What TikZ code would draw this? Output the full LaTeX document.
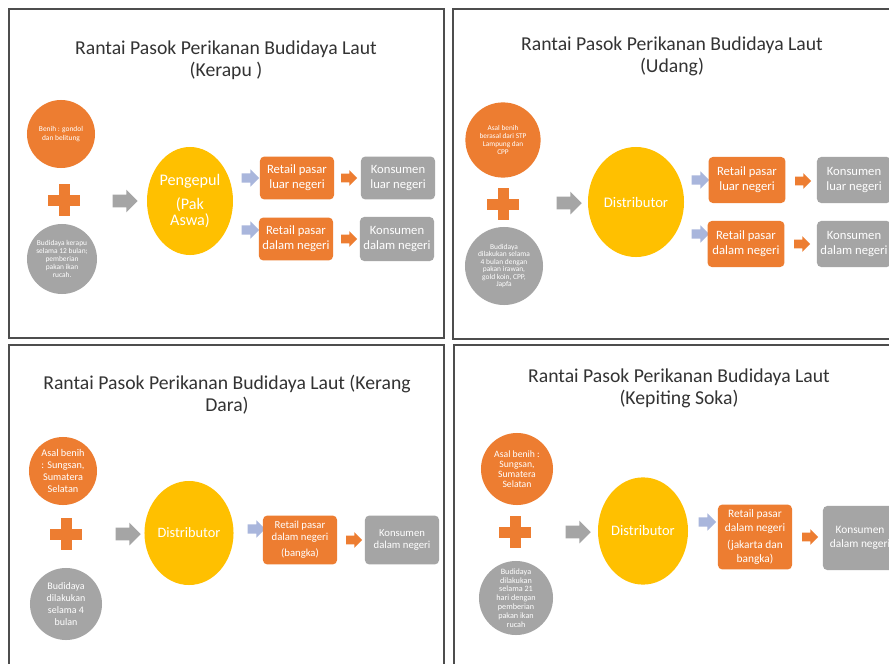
\documentclass[tikz,border=0pt]{standalone}
\usepackage{fontspec}
\setmainfont{Carlito}
\usepackage{tikz}
\usetikzlibrary{shapes.geometric, shapes.arrows}
\definecolor{offorange}{HTML}{ED7D31}
\definecolor{offgray}{HTML}{A5A5A5}
\definecolor{offgold}{HTML}{FFC000}
\definecolor{offblue}{HTML}{A9B6DC}
\definecolor{framegray}{HTML}{4D4D4D}

\begin{document}
\begin{tikzpicture}[
  x=0.025cm, y=-0.025cm,
  panel/.style={draw=framegray, line width=1pt},
  title/.style={align=center, text=black!80, font=\fontsize{14}{15.8}\selectfont},
  seed/.style={circle, fill=offorange, text=white, align=center, inner sep=0pt},
  culture/.style={circle, fill=offgray, text=white, align=center, inner sep=0pt},
  hub/.style={ellipse, fill=offgold, text=white, align=center, inner sep=0pt},
  retail/.style={rounded corners=3pt, fill=offorange, text=white, align=center, inner sep=1pt,
    minimum width=1.85cm, font=\fontsize{9}{10.6}\selectfont},
  buyer/.style={retail, fill=offgray},
  bigarrow/.style={single arrow, fill=offgray, inner xsep=0pt, inner ysep=0.15cm,
    minimum height=0.63cm, single arrow head extend=0.13cm},
  linkarrow/.style={single arrow, fill=offblue, inner xsep=0pt, inner ysep=0.11cm,
    minimum height=0.44cm, single arrow head extend=0.1cm},
  nextarrow/.style={linkarrow, fill=offorange, inner ysep=0.1cm, minimum height=0.4cm,
    single arrow head extend=0.09cm},
  plussign/.pic={
    \fill[offorange] (-16,-5.5) rectangle (16,5.5);
    \fill[offorange] (-5.5,-16) rectangle (5.5,16);
  }
]
  \path[use as bounding box, fill=white] (0,0) rectangle (889,664);
  \clip (0,0) rectangle (889,664);

  % Panels
  \draw[panel] (9,9) rectangle (444,338);
  \draw[panel] (453,9) rectangle (905,339);
  \draw[panel] (9,345) rectangle (444,690);
  \draw[panel] (454,345) rectangle (905,690);

  % Kerapu
  \node[title] (t1) at (226,60) {Rantai Pasok Perikanan Budidaya Laut\\(Kerapu )};
  \node[seed, minimum size=1.7cm, font=\fontsize{5.3}{5.9}\selectfont] (s1) at (61,134)
    {Benih : gondol\\dan belitung};
  \pic at (64,200) {plussign};
  \node[culture, minimum size=1.75cm, font=\fontsize{5.3}{5.7}\selectfont] (c1) at (62,259)
    {Budidaya kerapu\\selama 12 bulan;\\pemberian\\pakan ikan\\rucah.};
  \node[bigarrow] (g1) at (122,201) {};
  \node[hub, minimum width=2.1cm, minimum height=2.7cm, font=\fontsize{11.5}{12}\selectfont] (h1) at (190,201)
    {Pengepul\\[5pt](Pak\\Aswa)};
  \node[linkarrow] (b1a) at (248,178) {};
  \node[linkarrow] (b1b) at (248,230) {};
  \node[retail, minimum height=1.07cm] (r1a) at (297,178) {Retail pasar\\luar negeri};
  \node[retail, minimum height=1.07cm] (r1b) at (296,239) {Retail pasar\\dalam negeri};
  \node[nextarrow] (o1a) at (347,178) {};
  \node[nextarrow] (o1b) at (347,239) {};
  \node[buyer, minimum height=1.07cm] (k1a) at (398,178) {Konsumen\\luar negeri};
  \node[buyer, minimum height=1.1cm] (k1b) at (397,239) {Konsumen\\dalam negeri};

  % Udang
  \node[title] (t2) at (672,56) {Rantai Pasok Perikanan Budidaya Laut\\(Udang)};
  \node[seed, minimum size=1.88cm, font=\fontsize{5.2}{5.8}\selectfont] (s2) at (503,140)
    {Asal benih\\berasal dari STP\\Lampung dan\\CPP};
  \pic at (503,204) {plussign};
  \node[culture, minimum size=1.95cm, font=\fontsize{5.3}{5.4}\selectfont] (c2) at (504,266)
    {Budidaya\\dilakukan selama\\4 bulan dengan\\pakan irawan,\\gold koin, CPP,\\Japfa};
  \node[bigarrow] (g2) at (566,203) {};
  \node[hub, minimum width=2.4cm, minimum height=2.75cm, font=\fontsize{10.4}{12}\selectfont] (h2) at (636,202)
    {Distributor};
  \node[linkarrow] (b2a) at (698,180) {};
  \node[linkarrow] (b2b) at (698,234) {};
  \node[retail, minimum height=1.15cm, minimum width=1.92cm] (r2a) at (747,180) {Retail pasar\\luar negeri};
  \node[retail, minimum height=1.15cm, minimum width=1.92cm] (r2b) at (746,244) {Retail pasar\\dalam negeri};
  \node[nextarrow] (o2a) at (801,181) {};
  \node[nextarrow] (o2b) at (800,244) {};
  \node[buyer, minimum height=1.15cm] (k2a) at (854,180) {Konsumen\\luar negeri};
  \node[buyer, minimum height=1.15cm] (k2b) at (854,244) {Konsumen\\dalam negeri};

  % Kerang Dara
  \node[title] (t3) at (227,395) {Rantai Pasok Perikanan Budidaya Laut (Kerang\\Dara)};
  \node[seed, minimum size=1.7cm, font=\fontsize{7.3}{8.6}\selectfont] (s3) at (63,471)
    {Asal benih\\: Sungsan,\\Sumatera\\Selatan};
  \pic at (66,534) {plussign};
  \node[culture, minimum size=1.8cm, font=\fontsize{7.1}{8.4}\selectfont] (c3) at (66,604)
    {Budidaya\\dilakukan\\selama 4\\bulan};
  \node[bigarrow] (g3) at (125,534) {};
  \node[hub, minimum width=2.15cm, minimum height=2.6cm, font=\fontsize{10.2}{12}\selectfont] (h3) at (189,533)
    {Distributor};
  \node[linkarrow] (b3) at (254,529) {};
  \node[retail, minimum height=1.22cm, font=\fontsize{7.6}{8.6}\selectfont] (r3) at (300,540)
    {Retail pasar\\dalam negeri\\[3pt](bangka)};
  \node[nextarrow] (o3) at (352,540) {};
  \node[buyer, minimum height=1.22cm, font=\fontsize{7.6}{8.8}\selectfont] (k3) at (402,540)
    {Konsumen\\dalam negeri};

  % Kepiting Soka
  \node[title] (t4) at (679,388) {Rantai Pasok Perikanan Budidaya Laut\\(Kepiting Soka)};
  \node[seed, minimum size=1.8cm, font=\fontsize{6.9}{7.2}\selectfont] (s4) at (517,469)
    {Asal benih :\\Sungsan,\\Sumatera\\Selatan};
  \pic at (515,532) {plussign};
  \node[culture, minimum size=1.85cm, font=\fontsize{5.8}{6.3}\selectfont] (c4) at (516,598)
    {Budidaya\\dilakukan\\selama 21\\hari dengan\\pemberian\\pakan ikan\\rucah};
  \node[bigarrow] (g4) at (575,532) {};
  \node[hub, minimum width=2.25cm, minimum height=2.68cm, font=\fontsize{10.3}{12}\selectfont] (h4) at (643,531)
    {Distributor};
  \node[linkarrow] (b4) at (705,522) {};
  \node[retail, minimum height=1.62cm, font=\fontsize{8.1}{9.6}\selectfont] (r4) at (755,537)
    {Retail pasar\\dalam negeri\\[3pt](jakarta dan\\bangka)};
  \node[nextarrow] (o4) at (808,537) {};
  \node[buyer, minimum height=1.6cm, font=\fontsize{8.1}{9.6}\selectfont] (k4) at (860,538)
    {Konsumen\\dalam negeri};
\end{tikzpicture}
\end{document}
